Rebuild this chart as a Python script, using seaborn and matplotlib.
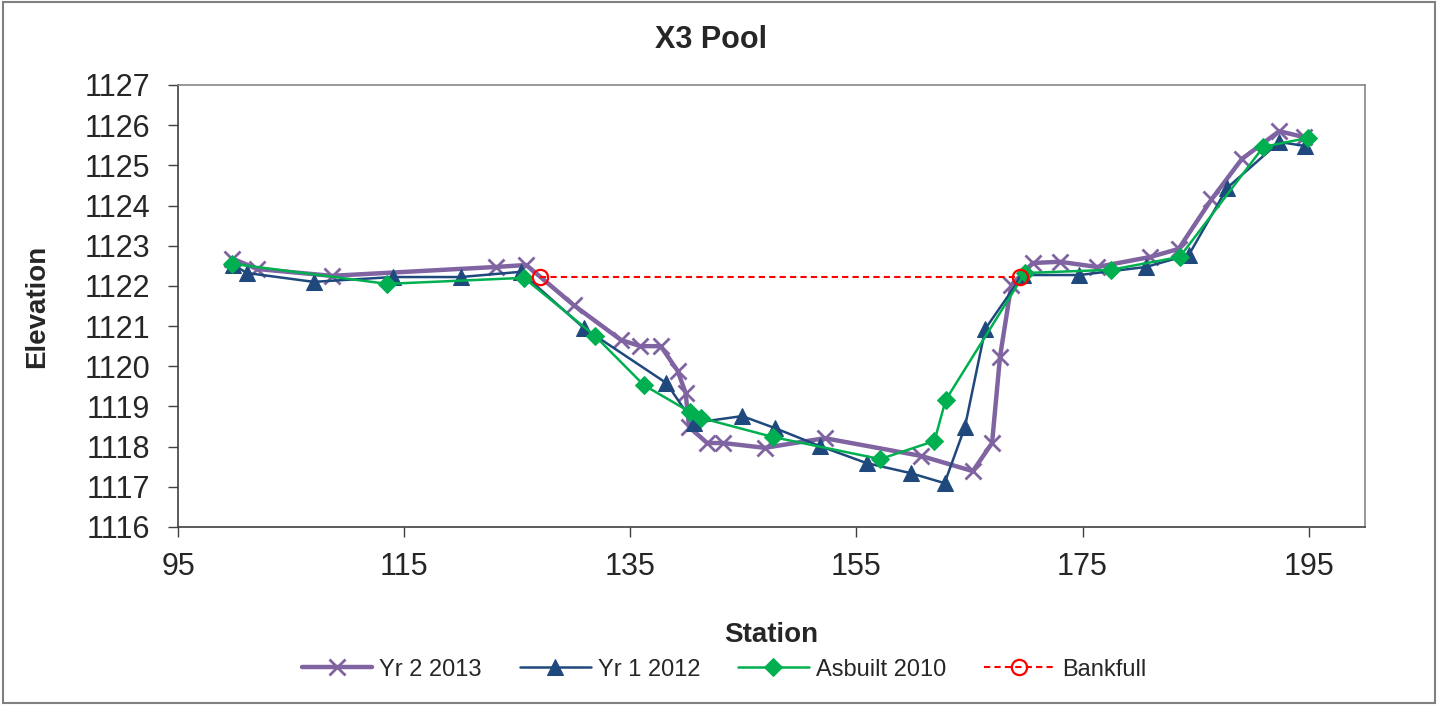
import pandas as pd
import seaborn as sns
import matplotlib.pyplot as plt
from matplotlib.patches import Rectangle

# survey data
sta_2013 = [99.8, 102.0, 108.6, 123.1, 125.8, 130.0, 134.2, 135.9, 137.7, 139.2,
            139.9, 140.2, 141.8, 143.2, 146.9, 152.2, 160.7, 165.3, 167.0, 167.7,
            168.7, 170.6, 173.0, 176.3, 181.0, 183.5, 186.4, 189.1, 192.4, 194.6]
elev_2013 = [1122.68, 1122.42, 1122.25, 1122.47, 1122.52, 1121.52, 1120.65, 1120.50, 1120.50, 1119.88,
             1119.33, 1118.49, 1118.09, 1118.09, 1117.97, 1118.21, 1117.77, 1117.39, 1118.09, 1120.23,
             1122.02, 1122.57, 1122.60, 1122.47, 1122.72, 1122.92, 1124.15, 1125.16, 1125.85, 1125.70]

sta_2012 = [99.9, 101.1, 107.0, 114.0, 120.0, 125.3, 130.9, 138.2, 140.6, 144.9,
            147.8, 151.8, 155.9, 159.8, 162.8, 164.6, 166.4, 169.7, 174.7, 180.6,
            184.4, 187.8, 192.4, 194.7]
elev_2012 = [1122.52, 1122.32, 1122.10, 1122.22, 1122.22, 1122.35, 1120.95, 1119.58, 1118.59, 1118.76,
             1118.46, 1118.01, 1117.59, 1117.34, 1117.09, 1118.49, 1120.93, 1122.27, 1122.27, 1122.47,
             1122.77, 1124.44, 1125.58, 1125.48]

sta_2010 = [99.8, 113.5, 125.6, 131.9, 136.2, 140.3, 141.3, 147.6, 157.1, 161.9,
            162.9, 169.9, 177.5, 183.6, 191.0, 194.9]
elev_2010 = [1122.55, 1122.05, 1122.20, 1120.75, 1119.53, 1118.86, 1118.71, 1118.24, 1117.69, 1118.14,
             1119.16, 1122.32, 1122.40, 1122.72, 1125.46, 1125.68]

sta_bkf = [127.0, 169.5]
elev_bkf = [1122.22, 1122.22]

xticks = [95, 115, 135, 155, 175, 195]
yticks = list(range(1116, 1128))

sns.set_style("white")
plt.rcParams['font.family'] = ['Liberation Sans', 'DejaVu Sans']

fig = plt.figure(figsize=(14.39, 7.05), dpi=100)
ax = fig.add_axes([0.1237, 0.2525, 0.825, 0.627])

df13 = pd.DataFrame({'Station': sta_2013, 'Elevation': elev_2013})
df12 = pd.DataFrame({'Station': sta_2012, 'Elevation': elev_2012})
df10 = pd.DataFrame({'Station': sta_2010, 'Elevation': elev_2010})
dfb = pd.DataFrame({'Station': sta_bkf, 'Elevation': elev_bkf})

sns.lineplot(data=df13, x='Station', y='Elevation', ax=ax, sort=False, estimator=None,
             color='#8064A2', linewidth=3.2, marker='x', markersize=12, markeredgewidth=2,
             markeredgecolor='#8064A2', label='Yr 2 2013')
sns.lineplot(data=df12, x='Station', y='Elevation', ax=ax, sort=False, estimator=None,
             color='#1F497D', linewidth=1.8, marker='^', markersize=11,
             markeredgecolor='#1F497D', label='Yr 1 2012')
sns.lineplot(data=df10, x='Station', y='Elevation', ax=ax, sort=False, estimator=None,
             color='#00B050', linewidth=1.8, marker='D', markersize=9,
             markeredgecolor='#00B050', label='Asbuilt 2010')
sns.lineplot(data=dfb, x='Station', y='Elevation', ax=ax, sort=False, estimator=None,
             color='#FF0000', linewidth=1.5, linestyle=(0, (3, 2)), marker='o', markersize=11,
             markerfacecolor='none', markeredgecolor='#FF0000', markeredgewidth=1.6,
             label='Bankfull')

ax.set_xlim(95, 200)
ax.set_ylim(1116, 1127)
ax.set_xticks(xticks)
ax.set_yticks(yticks)
ax.tick_params(axis='both', labelsize=22, direction='out', length=7, width=1,
               color='#404040', left=True, bottom=True)
ax.tick_params(axis='x', pad=11)
ax.tick_params(axis='y', pad=13)

for s in ['top', 'right']:
    ax.spines[s].set_color('#868686')
for s in ['left', 'bottom']:
    ax.spines[s].set_color('#404040')
for s in ax.spines.values():
    s.set_linewidth(1.2)

ax.set_xlabel('Station', fontsize=20, fontweight='bold', labelpad=29)
ax.set_ylabel('Elevation', fontsize=20, fontweight='bold', labelpad=25)
fig.suptitle('X3 Pool', x=0.494, y=0.965, fontsize=22, fontweight='bold')

handles, labels = ax.get_legend_handles_labels()
ax.get_legend().remove()
fig.legend(handles, labels, loc='center', bbox_to_anchor=(0.503, 0.05), ncol=4,
           frameon=False, fontsize=17, handlelength=3.0, columnspacing=1.6,
           handletextpad=0.3)

fig.patches.append(Rectangle((0.002, 0.003), 0.995, 0.994, transform=fig.transFigure,
                             fill=False, edgecolor='#808080', linewidth=1.5))

plt.savefig('out.png', dpi=100)
